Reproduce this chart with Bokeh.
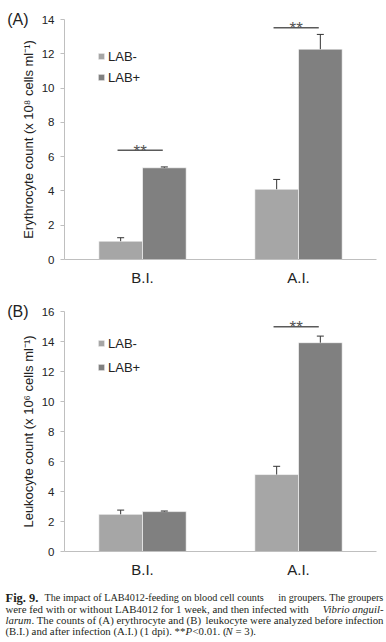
from bokeh.plotting import figure
from bokeh.models import (FactorRange, Range1d, FixedTicker, Legend, LegendItem,
                          Whisker, TeeHead, ColumnDataSource, LinearAxis)
from bokeh.transform import dodge
from bokeh.layouts import column
from bokeh.core.properties import value
from bokeh.embed import file_html
from bokeh.resources import INLINE

# ---------------- data ----------------
categories = ["B.I.", "A.I."]
series = ["LAB-", "LAB+"]
colors = ["#a6a6a6", "#808080"]

ery_minus = [1.07, 4.10]
ery_minus_err = [0.20, 0.57]
ery_plus = [5.35, 12.27]
ery_plus_err = [0.05, 0.86]
ery_sig_cats = ["B.I.", "A.I."]
ery_sig_y = [6.38, 13.52]
ery_ticks = [0, 2, 4, 6, 8, 10, 12, 14]

leu_minus = [2.48, 5.13]
leu_minus_err = [0.28, 0.55]
leu_plus = [2.66, 13.92]
leu_plus_err = [0.04, 0.44]
leu_sig_cats = ["A.I."]
leu_sig_y = [14.98]
leu_ticks = [0, 2, 4, 6, 8, 10, 12, 14, 16]

caption_line1 = ["Fig. 9.", "The impact of LAB4012-feeding on blood cell counts", "in groupers. The groupers"]
caption_line2 = ["were fed with or without LAB4012 for 1 week, and then infected with", "Vibrio anguil-"]
caption_line3 = ["larum", ". The counts of (A) erythrocyte and (B)", "leukocyte were analyzed before infection"]
caption_line4 = ["(B.I.) and after infection (A.I.) (1 dpi). **", "P", "<0.01. (", "N", "= 3)."]

SANS = "Liberation Sans"
SERIF = "Liberation Serif"
AXIS_GRAY = "#bfbfbf"
TEXT = "#222222"
W = 386


def panel(tag, ylabel, ymax, ticks, minus, minus_err, plus, plus_err,
          sig_cats, sig_y, border_top, frame_h, border_bottom, legend_y, legend_spacing):
    p = figure(x_range=FactorRange(*categories, range_padding=0),
               y_range=Range1d(0, ymax),
               width=W, height=border_top + frame_h + border_bottom,
               min_border_left=64, min_border_right=10, min_border_top=border_top,
               min_border_bottom=border_bottom,
               output_backend="svg", toolbar_location=None)
    p.outline_line_color = None
    p.xgrid.grid_line_color = None
    p.ygrid.grid_line_color = None

    src = ColumnDataSource(dict(
        cat=categories, minus=minus, plus=plus,
        minus_top=[v + e for v, e in zip(minus, minus_err)],
        plus_top=[v + e for v, e in zip(plus, plus_err)],
    ))
    r1 = p.vbar(x=dodge("cat", -0.14, range=p.x_range), top="minus", width=0.28,
                source=src, fill_color=colors[0], line_color="white", line_width=0.6)
    r2 = p.vbar(x=dodge("cat", 0.14, range=p.x_range), top="plus", width=0.28,
                source=src, fill_color=colors[1], line_color="white", line_width=0.6)
    for off, lo, hi in ((-0.14, "minus", "minus_top"), (0.14, "plus", "plus_top")):
        w = Whisker(base=dodge("cat", off, range=p.x_range), lower=lo, upper=hi,
                    source=src, lower_head=None,
                    upper_head=TeeHead(size=7, line_color="#333333", line_width=1),
                    line_color="#333333", line_width=1, level="glyph")
        p.add_layout(w)

    sig = ColumnDataSource(dict(cat=sig_cats, y=sig_y, mark=["**"] * len(sig_cats)))
    p.segment(x0=dodge("cat", -0.16, range=p.x_range), x1=dodge("cat", 0.13, range=p.x_range),
              y0="y", y1="y", source=sig, line_color="#5a5a5a", line_width=1.5)
    p.text(x=dodge("cat", -0.015, range=p.x_range), y="y", text="mark", source=sig,
           text_align="center", text_baseline="alphabetic", y_offset=1,
           text_font=value(SANS), text_font_size="17px", text_color="#555555")

    legend = Legend(items=[LegendItem(label=series[0], renderers=[r1]),
                           LegendItem(label=series[1], renderers=[r2])],
                    location=(33, legend_y), glyph_width=8, glyph_height=8,
                    label_height=16, label_standoff=3, spacing=legend_spacing,
                    padding=0, margin=0, border_line_color=None,
                    background_fill_alpha=0,
                    label_text_font=SANS, label_text_font_size="13px",
                    label_text_color=TEXT)
    p.add_layout(legend)

    ya = p.yaxis[0]
    ya.ticker = FixedTicker(ticks=ticks)
    ya.axis_label = ylabel
    ya.axis_label_text_font = SANS
    ya.axis_label_text_font_size = "13px"
    ya.axis_label_text_font_style = "normal"
    ya.axis_label_text_color = TEXT
    ya.axis_label_standoff = 3
    ya.major_label_text_font = SANS
    ya.major_label_text_font_size = "11.5px"
    ya.major_label_text_color = TEXT
    ya.major_label_standoff = 6
    ya.major_tick_out = 4
    ya.major_tick_in = 0
    ya.minor_tick_out = 0
    ya.minor_tick_in = 0
    ya.axis_line_color = AXIS_GRAY
    ya.major_tick_line_color = AXIS_GRAY

    # panel tag "(A)" / "(B)" as an outer left axis with one label at the top
    tag_axis = LinearAxis(ticker=FixedTicker(ticks=[ymax]),
                          major_label_overrides={ymax: tag},
                          axis_line_color=None, major_tick_line_color=None,
                          minor_tick_line_color=None, major_tick_out=0, major_tick_in=0,
                          minor_tick_out=0, minor_tick_in=0,
                          major_label_standoff=-11,
                          major_label_text_font=SANS, major_label_text_font_size="16px",
                          major_label_text_color=TEXT)
    p.add_layout(tag_axis, "left")

    xa = p.xaxis[0]
    xa.major_label_text_font = SANS
    xa.major_label_text_font_size = "15px"
    xa.major_label_text_color = TEXT
    xa.major_label_standoff = 9
    xa.major_tick_out = 0
    xa.major_tick_in = 0
    xa.axis_line_color = AXIS_GRAY
    return p


pa = panel("(A)", "Erythrocyte count (x 10\u2078 cells ml\u207b\u00b9)", 14, ery_ticks,
           ery_minus, ery_minus_err, ery_plus, ery_plus_err, ery_sig_cats, ery_sig_y,
           19, 240, 41, 174, 5)
pb = panel("(B)", "Leukocyte count (x 10\u2076 cells ml\u207b\u00b9)", 16, leu_ticks,
           leu_minus, leu_minus_err, leu_plus, leu_plus_err, leu_sig_cats, leu_sig_y,
           11, 241, 28, 176, 8)

# ---------------- caption ----------------
CH = 62
cap = figure(frame_width=W, frame_height=CH, x_range=Range1d(0, W), y_range=Range1d(CH, 0),
             min_border=0, min_border_left=0, min_border_right=0,
             min_border_top=0, min_border_bottom=0,
             x_axis_location=None, y_axis_location=None,
             output_backend="svg", toolbar_location=None)
cap.frame_align = False
cap.outline_line_color = None
cap.xgrid.grid_line_color = None
cap.ygrid.grid_line_color = None
CAPC = "#231f20"
FS = "10.8px"


def ctext(x, y, t, align="left", style="normal", size=FS):
    cap.text(x=[x], y=[y], text=[t], text_align=align, text_baseline="alphabetic",
             text_font=value(SERIF), text_font_size=size, text_font_style=style,
             text_color=CAPC)


ctext(5, 17, caption_line1[0], style="bold", size="12.5px")
ctext(44, 17, caption_line1[1], size="10.2px")
ctext(383, 17, caption_line1[2], align="right", size="10.2px")
ctext(5, 28, caption_line2[0])
ctext(383, 28, caption_line2[1], align="right", style="italic")
ctext(5, 39, caption_line3[0], style="italic")
ctext(31, 39, caption_line3[1])
ctext(383, 39, caption_line3[2], align="right")
ctext(5, 50, caption_line4[0])
ctext(185, 50, caption_line4[1], style="italic")
ctext(192, 50, caption_line4[2])
ctext(225, 50, caption_line4[3], style="italic")
ctext(235, 50, caption_line4[4])

layout = column(pa, pb, cap, spacing=0)
open("out.html", "w").write(file_html(layout, INLINE))
